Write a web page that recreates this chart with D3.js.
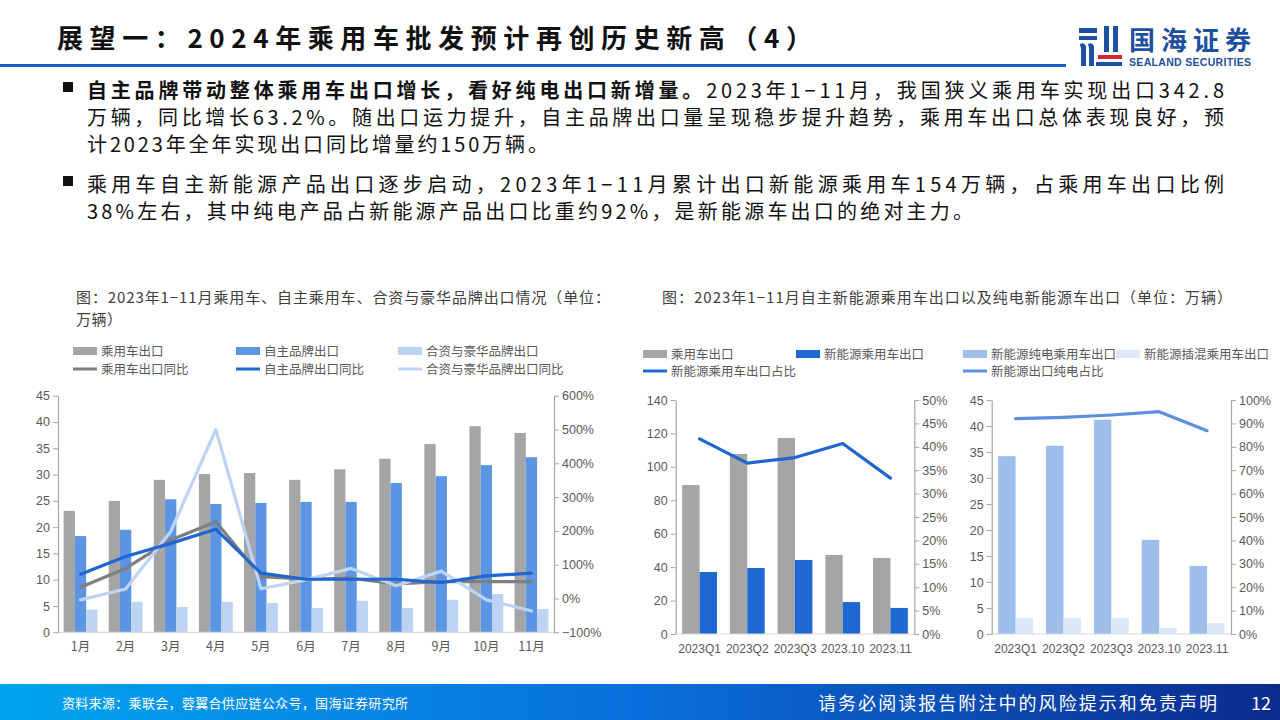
<!DOCTYPE html>
<html><head><meta charset="utf-8">
<script src="https://cdn.jsdelivr.net/npm/d3@7/dist/d3.min.js"></script>
<style>
body{margin:0;background:#fff;}
svg{display:block;font-family:"Noto Sans CJK SC","Noto Sans",sans-serif;}
</style></head><body>
<svg id="c" width="1280" height="720"></svg>
<script>
// ---------- DATA ----------
const months = ["1月","2月","3月","4月","5月","6月","7月","8月","9月","10月","11月"];
const paExport  = [23.1,25.0,29.0,30.1,30.3,29.0,31.0,33.0,35.8,39.2,37.9];
const ownExport = [18.3,19.5,25.3,24.4,24.6,24.8,24.8,28.4,29.7,31.8,33.3];
const jvExport  = [4.3,5.8,4.8,5.8,5.6,4.6,6.0,4.6,6.2,7.3,4.4];
const paYoY  = [33,89,173,227,65,57,60,43,50,50,50];
const ownYoY = [72,124,163,205,75,57,57,57,47,67,75];
const jvYoY  = [-4,28,198,500,29,55,89,38,81,-4,-37];
const leftTicks1 = [0,5,10,15,20,25,30,35,40,45];
const rightTicks1 = [-100,0,100,200,300,400,500,600];

const periods = ["2023Q1","2023Q2","2023Q3","2023.10","2023.11"];
const paExport2 = [89.1,107.7,117.3,47.3,45.5];
const nevExport = [37.1,39.5,44.3,19.1,15.6];
const nevShare  = [41.7,36.5,37.7,40.7,33.3];
const leftTicks2 = [0,20,40,60,80,100,120,140];
const rightTicks2 = [0,5,10,15,20,25,30,35,40,45,50];

const bevExport  = [34.2,36.2,41.2,18.1,13.1];
const phevExport = [3.1,3.1,3.1,1.2,2.1];
const bevShare   = [92.0,92.6,93.6,95.0,86.9];
const leftTicks3 = [0,5,10,15,20,25,30,35,40,45];
const rightTicks3 = [0,10,20,30,40,50,60,70,80,90,100];

const headingText = "展望一：2024年乘用车批发预计再创历史新高（4）";
const p1Bold = "自主品牌带动整体乘用车出口增长，看好纯电出口新增量。";
const p1Rest = "2023年1−11月，我国狭义乘用车实现出口342.8";
const p1Lines = ["万辆，同比增长63.2%。随出口运力提升，自主品牌出口量呈现稳步提升趋势，乘用车出口总体表现良好，预",
                 "计2023年全年实现出口同比增量约150万辆。"];
const p2Lines = ["乘用车自主新能源产品出口逐步启动，2023年1−11月累计出口新能源乘用车154万辆，占乘用车出口比例",
                 "38%左右，其中纯电产品占新能源产品出口比重约92%，是新能源车出口的绝对主力。"];
const title1a = "图：2023年1−11月乘用车、自主乘用车、合资与豪华品牌出口情况（单位：";
const title1b = "万辆）";
const title2 = "图：2023年1−11月自主新能源乘用车出口以及纯电新能源车出口（单位：万辆）";
const sourceText = "资料来源：乘联会，蓉翼合供应链公众号，国海证券研究所";
const disclaimer = "请务必阅读报告附注中的风险提示和免责声明";
const pageNo = "12";

// ---------- HELPERS ----------
const svg = d3.select("#c");
function fit(sel, w){
  const node = sel.node();
  const len = node.getComputedTextLength();
  const n = node.textContent.length;
  if(n>1) sel.attr("letter-spacing", (w-len)/(n-1));
}
const defs = svg.append("defs");
const grad = defs.append("linearGradient").attr("id","fg").attr("x1","0").attr("x2","1");
grad.append("stop").attr("offset","0").attr("stop-color","#00a4ef");
grad.append("stop").attr("offset","0.5").attr("stop-color","#0a6fdc");
grad.append("stop").attr("offset","1").attr("stop-color","#0b2b8c");

// ---------- HEADER ----------
const h = svg.append("text").attr("x",57).attr("y",48).attr("font-size",26).attr("font-weight","bold")
  .attr("fill","#111").text(headingText);
fit(h, 755);
svg.append("rect").attr("x",0).attr("y",64).attr("width",1066).attr("height",3).attr("fill","#1560c0");

// logo
const logo = svg.append("g");
logo.append("path").attr("d","M1079,28 h18 v5 h-18z M1079,36 h18 v4 h-18z").attr("fill","#1e4fa0");
logo.append("path").attr("d","M1080,44 q4,-2 6,2 v20 h-5 v-18 q-1,-2 -1,-4z M1088,44 q4,-2 6,2 v20 h-5 v-18z").attr("fill","#1e4fa0");
logo.append("path").attr("d","M1104,26 h5 v26 h-5z M1113,26 h5 v26 h-5z").attr("fill","#1e4fa0");
logo.append("rect").attr("x",1098).attr("y",55).attr("width",24).attr("height",4).attr("fill","#d9262c");
logo.append("rect").attr("x",1096).attr("y",62).attr("width",26).attr("height",4).attr("fill","#1e4fa0");
const lt = logo.append("text").attr("x",1129).attr("y",50).attr("font-size",26).attr("font-weight","bold").attr("fill","#1e4fa0").text("国海证券");
fit(lt,122);
const ls = logo.append("text").attr("x",1129).attr("y",66).attr("font-size",10.5).attr("font-weight","bold")
  .attr("font-family","Liberation Sans, Arial, sans-serif").attr("fill","#1e4fa0").text("SEALAND SECURITIES");
fit(ls,122);

// ---------- PARAGRAPHS ----------
function bullet(y){ svg.append("rect").attr("x",63).attr("y",y-16).attr("width",10).attr("height",10).attr("fill","#111"); }
bullet(98); bullet(192);
const l1 = svg.append("text").attr("x",87).attr("y",98).attr("font-size",20).attr("fill","#111");
l1.append("tspan").attr("font-weight","bold").text(p1Bold);
l1.append("tspan").text(p1Rest);
fit(l1,1137);
const pl = [[p1Lines[0],125,1137],[p1Lines[1],152,461],[p2Lines[0],192,1137],[p2Lines[1],219,886]];
pl.forEach(([t,y,w])=>{
  const e = svg.append("text").attr("x",87).attr("y",y).attr("font-size",20).attr("fill","#111").text(t);
  fit(e,w);
});

// ---------- CHART TITLES ----------
const t1 = svg.append("text").attr("x",76).attr("y",303).attr("font-size",15).attr("fill","#404040").text(title1a); fit(t1,534);
svg.append("text").attr("x",76).attr("y",325).attr("font-size",15).attr("fill","#404040").text(title1b).call(s=>fit(s,46));
const t2 = svg.append("text").attr("x",662).attr("y",303).attr("font-size",15).attr("fill","#404040").text(title2); fit(t2,570);

// ---------- LEGENDS ----------
function legBar(x,y,color,label){
  svg.append("rect").attr("x",x).attr("y",y-4).attr("width",24).attr("height",8).attr("fill",color);
  svg.append("text").attr("x",x+28).attr("y",y+4.5).attr("font-size",12.5).attr("fill","#595959").text(label);
}
function legLine(x,y,color,label){
  svg.append("line").attr("x1",x).attr("x2",x+24).attr("y1",y).attr("y2",y).attr("stroke",color).attr("stroke-width",3);
  svg.append("text").attr("x",x+28).attr("y",y+4.5).attr("font-size",12.5).attr("fill","#595959").text(label);
}
const C = {gray:"#a5a5a5", grayLine:"#7f7f7f", blue:"#5b95e3", blueLine:"#1f66d2", light:"#bdd3f3", lightLine:"#bdd4f4",
           nev:"#1f68d4", bev:"#9ebfec", phev:"#dde9f9", bevLine:"#5b8fe0"};
legBar(73,351,C.gray,"乘用车出口"); legBar(236,351,C.blue,"自主品牌出口"); legBar(398,351,C.light,"合资与豪华品牌出口");
legLine(73,369,C.grayLine,"乘用车出口同比"); legLine(236,369,C.blueLine,"自主品牌出口同比"); legLine(398,369,C.lightLine,"合资与豪华品牌出口同比");
legBar(643,354,C.gray,"乘用车出口"); legBar(796,354,C.nev,"新能源乘用车出口");
legLine(643,371,C.blueLine,"新能源乘用车出口占比");
legBar(963,354,C.bev,"新能源纯电乘用车出口"); legBar(1116,354,C.phev,"新能源插混乘用车出口");
legLine(963,371,C.bevLine,"新能源出口纯电占比");

// ---------- CHARTS ----------
function chart(cfg){
  const g = svg.append("g");
  const x = d3.scaleBand().domain(cfg.cats).range([cfg.x0,cfg.x1]);
  const bw = x.bandwidth();
  const inner = d3.scaleBand().domain(d3.range(cfg.bars.length)).range([bw*cfg.pad, bw*(1-cfg.pad)]);
  const yL = d3.scaleLinear().domain([0,d3.max(cfg.lTicks)]).range([cfg.yb,cfg.yt]);
  const yR = d3.scaleLinear().domain(d3.extent(cfg.rTicks)).range([cfg.yb,cfg.yt]);
  cfg.bars.forEach((b,i)=>{
    g.selectAll(null).data(b.values).enter().append("rect")
      .attr("x",(d,j)=>x(cfg.cats[j])+inner(i)).attr("width",inner.bandwidth())
      .attr("y",d=>yL(d)).attr("height",d=>yL(0)-yL(d)).attr("fill",b.color);
  });
  g.append("line").attr("x1",cfg.x0).attr("x2",cfg.x1).attr("y1",cfg.yb).attr("y2",cfg.yb).attr("stroke","#d9d9d9").attr("stroke-width",1.2);
  const ax = g.append("g").attr("transform",`translate(${cfg.x0},0)`)
    .call(d3.axisLeft(yL).tickValues(cfg.lTicks).tickSize(5).tickSizeOuter(0).tickPadding(3));
  const ar = g.append("g").attr("transform",`translate(${cfg.x1},0)`)
    .call(d3.axisRight(yR).tickValues(cfg.rTicks).tickSize(5).tickSizeOuter(0).tickPadding(3).tickFormat(d=>cfg.rFmt(d)));
  [ax,ar].forEach(a=>{
    a.select(".domain").attr("stroke","#a6a6a6").attr("stroke-width",1.2);
    a.selectAll(".tick line").attr("stroke","#a6a6a6");
    a.selectAll(".tick text").attr("fill","#595959").attr("font-size",12.5).attr("font-family","Liberation Sans, Arial, sans-serif");
  });
  g.selectAll(null).data(cfg.cats).enter().append("text")
    .attr("x",d=>x(d)+bw/2).attr("y",cfg.yb+19).attr("text-anchor","middle")
    .attr("font-size",cfg.catSize).attr("fill","#595959")
    .attr("font-family",cfg.catFont).text(d=>d);
  cfg.lines.forEach(l=>{
    const line = d3.line().x((d,j)=>x(cfg.cats[j])+bw/2).y(d=>yR(d));
    g.append("path").datum(l.values).attr("d",line).attr("fill","none").attr("stroke",l.color)
      .attr("stroke-width",3.2).attr("stroke-linejoin","round").attr("stroke-linecap","round");
  });
}
chart({cats:months,x0:58,x1:554,yt:395.7,yb:632.3,pad:0.125,catSize:12.5,catFont:"Noto Sans CJK SC, sans-serif",
  lTicks:leftTicks1,rTicks:rightTicks1,rFmt:d=>(d<0?"−":"")+Math.abs(d)+"%",
  bars:[{values:paExport,color:C.gray},{values:ownExport,color:C.blue},{values:jvExport,color:C.light}],
  lines:[{values:paYoY,color:C.grayLine},{values:jvYoY,color:C.lightLine},{values:ownYoY,color:C.blueLine}]});
chart({cats:periods,x0:675.7,x1:914.3,yt:400,yb:634,pad:0.135,catSize:12,catFont:"Liberation Sans, Arial, sans-serif",
  lTicks:leftTicks2,rTicks:rightTicks2,rFmt:d=>d+"%",
  bars:[{values:paExport2,color:C.gray},{values:nevExport,color:C.nev}],
  lines:[{values:nevShare,color:C.blueLine}]});
chart({cats:periods,x0:991.7,x1:1231,yt:400,yb:634,pad:0.135,catSize:12,catFont:"Liberation Sans, Arial, sans-serif",
  lTicks:leftTicks3,rTicks:rightTicks3,rFmt:d=>d+"%",
  bars:[{values:bevExport,color:C.bev},{values:phevExport,color:C.phev}],
  lines:[{values:bevShare,color:C.bevLine}]});

// ---------- FOOTER ----------
svg.append("rect").attr("x",0).attr("y",684).attr("width",1280).attr("height",36).attr("fill","url(#fg)");
const s1 = svg.append("text").attr("x",62).attr("y",708).attr("font-size",13).attr("fill","#fff").text(sourceText); fit(s1,346);
const s2 = svg.append("text").attr("x",818).attr("y",710).attr("font-size",18).attr("fill","#fff").text(disclaimer); fit(s2,399);
svg.append("text").attr("x",1251).attr("y",710).attr("font-size",18).attr("fill","#fff").text(pageNo);
</script>
</body></html>
